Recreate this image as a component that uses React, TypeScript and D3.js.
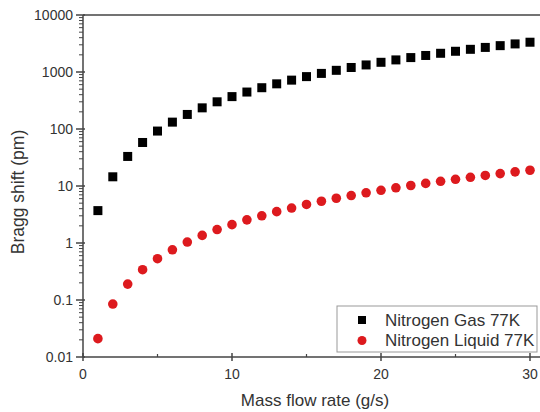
import React from 'react';
import * as d3 from 'd3';

// mass flow rate (g/s)
const flowRates = [
  1, 2, 3, 4, 5, 6, 7, 8, 9, 10, 11, 12, 13, 14, 15, 16, 17, 18, 19, 20, 21, 22, 23, 24, 25, 26, 27, 28, 29, 30,
];
// Bragg shift (pm), nitrogen gas 77K
const gasShift = [
  3.7, 14.5, 33, 58, 92, 132, 180, 235, 300, 370, 445, 530, 620, 720, 830, 945, 1070, 1200, 1330, 1480, 1630,
  1790, 1950, 2130, 2310, 2500, 2700, 2900, 3110, 3330,
];
// Bragg shift (pm), nitrogen liquid 77K
const liquidShift = [
  0.021, 0.085, 0.19, 0.34, 0.53, 0.76, 1.04, 1.36, 1.72, 2.1, 2.55, 3.0, 3.55, 4.1, 4.75, 5.4, 6.1, 6.8, 7.6,
  8.4, 9.3, 10.2, 11.1, 12.1, 13.1, 14.2, 15.3, 16.5, 17.7, 18.9,
];
const xTicks = [0, 10, 20, 30];
const xMinorTicks = [5, 15, 25];
const yTicks = [0.01, 0.1, 1, 10, 100, 1000, 10000];
const yTickLabels = ['0.01', '0.1', '1', '10', '100', '1000', '10000'];
const legendLabels = ['Nitrogen Gas 77K', 'Nitrogen Liquid 77K'];

const W = 540;
const H = 412;
const font = 'Arial, "Liberation Sans", sans-serif';
const axisColor = '#444';
const textColor = '#333';
const red = '#dd1a1e';

const App = () => {
  const x = d3.scaleLinear().domain([0, 31]).range([83, 83 + 31 * 14.9]);
  const y = d3.scaleLog().domain([0.01, 10000]).range([357, 15]);

  // minor log ticks 2..9 per decade
  const yMinor: number[] = [];
  for (let d = 0.01; d < 10000; d *= 10) {
    for (let m = 2; m <= 9; m++) yMinor.push(+(d * m).toPrecision(3));
  }

  const [x0, x1] = x.range();
  const [yb, yt] = y.range();

  return (
    <svg
      width={W}
      height={H}
      style={{ position: 'absolute', left: 0, top: 0, background: '#fff' }}
      fontFamily={font}
    >
      {/* frame */}
      <line x1={x0} x2={x1} y1={yt} y2={yt} stroke={axisColor} strokeWidth={1.5} />
      <line x1={x0} x2={x1} y1={yb} y2={yb} stroke={axisColor} strokeWidth={1.5} />
      <line x1={x0} x2={x0} y1={yt} y2={yb} stroke={axisColor} strokeWidth={1.5} />

      {/* x axis ticks */}
      {xTicks.map((t) => (
        <g key={'xt' + t}>
          <line x1={x(t)} x2={x(t)} y1={yb - 4} y2={yb + 4} stroke={axisColor} strokeWidth={1.5} />
          <text x={x(t)} y={yb + 17} dy="0.35em" textAnchor="middle" fontSize={14} fill={textColor}>
            {t}
          </text>
        </g>
      ))}
      {xMinorTicks.map((t) => (
        <line key={'xm' + t} x1={x(t)} x2={x(t)} y1={yb - 3} y2={yb} stroke={axisColor} strokeWidth={1.2} />
      ))}

      {/* y axis ticks */}
      {yTicks.map((t, i) => (
        <g key={'yt' + t}>
          <line x1={x0 - 7} x2={x0 + 2} y1={y(t)} y2={y(t)} stroke={axisColor} strokeWidth={1.5} />
          <text x={x0 - 10} y={y(t)} dy="0.35em" textAnchor="end" fontSize={14} fill={textColor}>
            {yTickLabels[i]}
          </text>
        </g>
      ))}
      {yMinor.map((t) => (
        <line key={'ym' + t} x1={x0 - 4} x2={x0} y1={y(t)} y2={y(t)} stroke={axisColor} strokeWidth={1} />
      ))}

      {/* axis titles */}
      <text x={315} y={400} dy="0.35em" textAnchor="middle" fontSize={17} fill={textColor}>
        Mass flow rate (g/s)
      </text>
      <text
        transform={`translate(18,192) rotate(-90)`}
        dy="0.35em"
        textAnchor="middle"
        fontSize={17.5}
        fill={textColor}
      >
        Bragg shift (pm)
      </text>

      {/* gas series */}
      {flowRates.map((f, i) => (
        <rect key={'g' + f} x={x(f) - 4.5} y={y(gasShift[i]) - 4.5} width={9} height={9} fill="#000" />
      ))}
      {/* liquid series */}
      {flowRates.map((f, i) => (
        <circle key={'l' + f} cx={x(f)} cy={y(liquidShift[i])} r={4.8} fill={red} />
      ))}

      {/* legend */}
      <g>
        <rect x={337} y={306} width={200} height={46} fill="#fff" stroke="#999" strokeWidth={1} />
        <rect x={358} y={316} width={8} height={8} fill="#000" />
        <text x={385} y={320} dy="0.35em" fontSize={17} fill={textColor}>
          {legendLabels[0]}
        </text>
        <circle cx={362} cy={340.5} r={4.5} fill={red} />
        <text x={385} y={340.5} dy="0.35em" fontSize={17} fill={textColor}>
          {legendLabels[1]}
        </text>
      </g>
    </svg>
  );
};

export default App;
